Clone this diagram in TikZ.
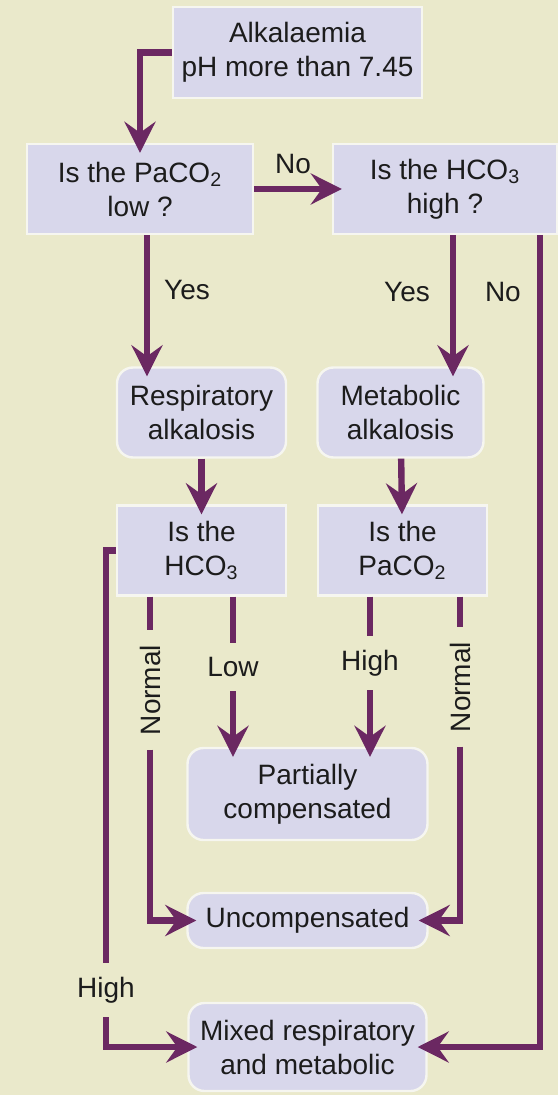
\documentclass[tikz,border=0pt]{standalone}
\usepackage{fontspec}
\setmainfont{Liberation Sans}
\usepackage{tikz}
\usetikzlibrary{shapes, arrows.meta}
\usetikzlibrary{positioning}
\definecolor{paper}{HTML}{EAE9CB}
\definecolor{lilac}{HTML}{D8D7EB}
\definecolor{rim}{HTML}{F6F6F0}
\definecolor{plum}{HTML}{6B2862}
\definecolor{ink}{HTML}{1C1C1C}
\tikzstyle{box} = [rectangle, minimum width = 84.5, minimum height = 45, draw =
  rim, line width = 1.2, fill = lilac, text = ink, text centered, align = center,
  inner sep = 2, font = \fontsize{14}{17}\selectfont]
\tikzstyle{pill} = [
  box, rounded corners = 8pt
]
\tikzstyle{lbl} = [text = ink, inner sep = 4, font = \fontsize{14}{17}\selectfont]
\tikzstyle{gaplbl} = [lbl, inner sep = 7]
\tikzstyle{wire} = [draw = plum, line width = 3.2]
\tikzstyle{link} = [wire, -{Stealth[length = 15.5pt, width = 15.5pt, inset = 5.5pt]},
  shorten > = -5pt]

\begin{document}
\begin{tikzpicture}[x = 1pt, y = 1pt, node distance = 0]
      \path [use as bounding box, fill = paper] (-148.75, 26.25) rectangle (130.25, -521.25);
      % start
      \node [box, minimum width = 124.5, minimum height = 45.5] (alk) {Alkalaemia\\pH more than 7.45};
      % questions
      \node [box, minimum width = 113, below of = alk, xshift = -78.75, yshift = -68.25] (q-paco) {Is the PaCO\textsubscript{2}\\low ?};
      \node [box, minimum width = 112, right of = q-paco, xshift = 152.5] (q-hco) {Is the HCO\textsubscript{3}\\high ?};
      % diagnosis
      \node [pill, below of = q-paco, xshift = 30.75, yshift = -111.75] (resp) {Respiratory\\alkalosis};
      \node [pill, minimum width = 83, right of = resp, xshift = 99.5] (met) {Metabolic\\alkalosis};
      % compensation
      \node [box, below of = resp, yshift = -69] (hco) {Is the\\HCO\textsubscript{3}};
      \node [box, right of = hco, xshift = 100.5] (paco) {Is the\\PaCO\textsubscript{2}};
      % outcome
      \node [pill, minimum width = 120, minimum height = 46, below of = hco, xshift = 53, yshift = -121.75] (partial) {Partially\\compensated};
      \node [pill, minimum width = 120, minimum height = 27.5, below of = partial, yshift = -63.25] (uncomp) {Uncompensated};
      \node [pill, minimum width = 119, minimum height = 44, below of = uncomp, yshift = -63.25] (mixed) {Mixed respiratory\\and metabolic};

      % branch labels
      \node [gaplbl, below of = hco, xshift = -25.75, yshift = -69.75, rotate = 90] (nrm-l) {Normal};
      \node [gaplbl, below of = hco, xshift = 15.75, yshift = -58.25] (low) {Low};
      \node [gaplbl, below of = paco, xshift = -16.25, yshift = -56.25] (high) {High};
      \node [gaplbl, below of = paco, xshift = 28.75, yshift = -68.25, rotate = 90] (nrm-r) {Normal};
      \node [gaplbl, below of = hco, xshift = -47.75, yshift = -219.75] (high-l) {High};

      \draw [link] (alk.west) -| (q-paco.north);
      \draw [link] (q-paco.east) -- (q-hco.west) node [lbl, midway, above = 2pt] {No};
      \draw [link] ([xshift = 3.5]q-paco.south) -- ([xshift = 3.5]q-paco.south |- resp.north)
      node [lbl, pos = 0.42, right = 3pt] {Yes};
      \draw [link] ([xshift = 4]q-hco.south) -- ([xshift = 4]q-hco.south |- met.north)
      node [lbl, pos = 0.43, left = 6pt] {Yes};
      \draw [link] ([xshift = 47.5]q-hco.south) |- (mixed.east)
      node [lbl, pos = 0.035, left = 4pt] {No};
      \draw [link] (resp) -- (hco);
      \draw [link] (met) -- (paco);

      \draw [wire] (hco.south -| nrm-l) -- (nrm-l);
      \draw [link] (nrm-l) |- (uncomp.west);
      \draw [wire] (hco.south -| low) -- (low);
      \draw [link] (low) -- (low |- partial.north);
      \draw [wire] (paco.south -| high) -- (high);
      \draw [link] (high) -- (high |- partial.north);
      \draw [wire] (paco.south -| nrm-r) -- (nrm-r);
      \draw [link] (nrm-r) |- (uncomp.east);
      \draw [wire] (hco.west) -| (high-l);
      \draw [link] (high-l) |- (mixed.west);
    \end{tikzpicture}
\end{document}
